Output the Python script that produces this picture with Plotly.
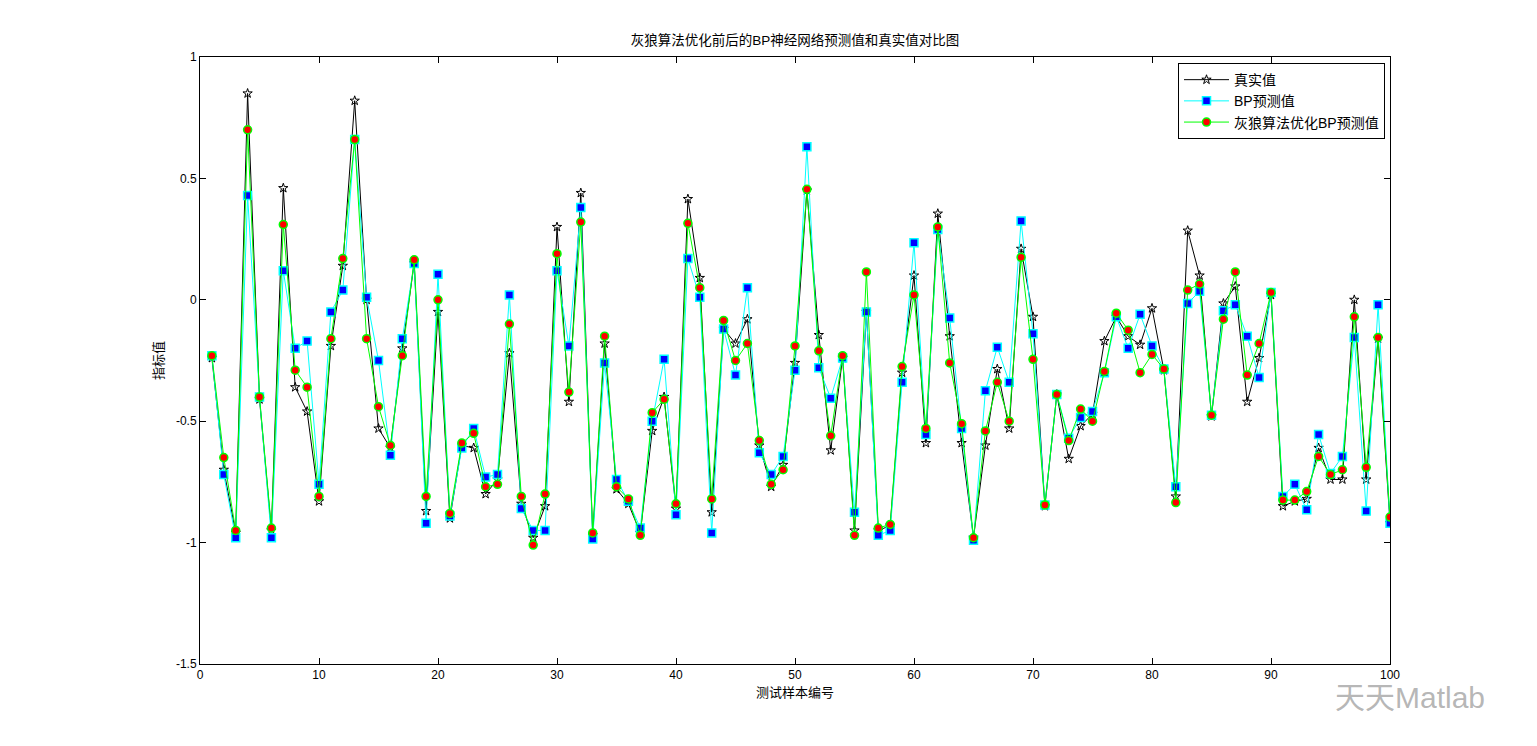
import plotly.graph_objects as go

samples = list(range(1, 101))

true_vals = [
    -0.24, -0.70, -0.96, 0.85, -0.41, -0.95, 0.46, -0.36, -0.46, -0.83,
    -0.19, 0.14, 0.82, 0.00, -0.53, -0.61, -0.20, 0.15, -0.87, -0.05,
    -0.90, -0.60, -0.61, -0.80, -0.74, -0.22, -0.84, -0.98, -0.85, 0.30,
    -0.42, 0.44, -0.97, -0.18, -0.78, -0.84, -0.96, -0.54, -0.40, -0.86,
    0.415, 0.09, -0.875, -0.12, -0.18, -0.08, -0.60, -0.77, -0.68, -0.26,
    0.45, -0.145, -0.62, -0.24, -0.95, -0.05, -0.95, -0.93, -0.30, 0.10,
    -0.59, 0.355, -0.15, -0.59, -0.98, -0.60, -0.285, -0.53, 0.21, -0.07,
    -0.85, -0.39, -0.655, -0.52, -0.47, -0.17, -0.07, -0.15, -0.185, -0.035,
    -0.29, -0.81, 0.285, 0.10, -0.48, -0.015, 0.055, -0.42, -0.24, 0.02,
    -0.85, -0.83, -0.82, -0.61, -0.74, -0.74, 0.00, -0.74, -0.16, -0.92,
]

bp_vals = [
    -0.23, -0.72, -0.98, 0.43, -0.40, -0.98, 0.12, -0.20, -0.17, -0.76,
    -0.05, 0.04, 0.66, 0.01, -0.25, -0.64, -0.16, 0.15, -0.92, 0.105,
    -0.89, -0.61, -0.53, -0.73, -0.72, 0.02, -0.86, -0.95, -0.95, 0.12,
    -0.19, 0.38, -0.985, -0.26, -0.74, -0.83, -0.94, -0.50, -0.245, -0.885,
    0.17, 0.01, -0.96, -0.12, -0.31, 0.05, -0.63, -0.72, -0.645, -0.29,
    0.63, -0.28, -0.405, -0.24, -0.875, -0.05, -0.97, -0.95, -0.34, 0.235,
    -0.555, 0.29, -0.075, -0.53, -0.99, -0.375, -0.195, -0.34, 0.325, -0.14,
    -0.845, -0.39, -0.57, -0.485, -0.46, -0.30, -0.07, -0.20, -0.06, -0.19,
    -0.285, -0.77, -0.015, 0.035, -0.475, -0.045, -0.02, -0.15, -0.32, 0.03,
    -0.81, -0.76, -0.865, -0.555, -0.715, -0.645, -0.155, -0.87, -0.02, -0.92,
]

gwo_vals = [
    -0.23, -0.65, -0.95, 0.70, -0.40, -0.94, 0.31, -0.29, -0.36, -0.81,
    -0.16, 0.17, 0.66, -0.16, -0.44, -0.60, -0.23, 0.165, -0.81, 0.00,
    -0.88, -0.59, -0.55, -0.77, -0.76, -0.10, -0.81, -1.01, -0.80, 0.19,
    -0.38, 0.32, -0.96, -0.15, -0.77, -0.82, -0.97, -0.465, -0.41, -0.84,
    0.315, 0.05, -0.82, -0.085, -0.25, -0.18, -0.58, -0.76, -0.70, -0.19,
    0.455, -0.21, -0.56, -0.23, -0.97, 0.115, -0.94, -0.925, -0.275, 0.02,
    -0.53, 0.30, -0.26, -0.51, -0.98, -0.54, -0.34, -0.50, 0.175, -0.245,
    -0.845, -0.39, -0.58, -0.45, -0.50, -0.295, -0.055, -0.125, -0.30, -0.225,
    -0.285, -0.835, 0.04, 0.065, -0.475, -0.08, 0.115, -0.31, -0.18, 0.03,
    -0.825, -0.825, -0.79, -0.645, -0.72, -0.70, -0.07, -0.69, -0.155, -0.895,
]

x_ticks = [0, 10, 20, 30, 40, 50, 60, 70, 80, 90, 100]
y_ticks = [-1.5, -1, -0.5, 0, 0.5, 1]
y_tick_labels = ["-1.5", "-1", "-0.5", "0", "0.5", "1"]

title_text = "灰狼算法优化前后的BP神经网络预测值和真实值对比图"
x_title = "测试样本编号"
y_title = "指标值"
names = ["真实值", "BP预测值", "灰狼算法优化BP预测值"]
watermark = "天天Matlab"

FONT = "Liberation Sans, Noto Sans CJK SC, sans-serif"

fig = go.Figure()
fig.add_trace(go.Scatter(
    x=samples, y=true_vals, name=names[0], mode="lines+markers",
    line=dict(color="black", width=1),
    marker=dict(symbol="star-open", size=7, color="black", line=dict(width=1, color="black")),
))
fig.add_trace(go.Scatter(
    x=samples, y=bp_vals, name=names[1], mode="lines+markers",
    line=dict(color="#00ffff", width=1),
    marker=dict(symbol="square", size=8, color="#0000ff", line=dict(width=1.5, color="#00ffff")),
))
fig.add_trace(go.Scatter(
    x=samples, y=gwo_vals, name=names[2], mode="lines+markers",
    line=dict(color="#00ff00", width=1),
    marker=dict(symbol="circle", size=8, color="#ff0000", line=dict(width=1.5, color="#00ff00")),
))

axis_common = dict(
    showgrid=False, zeroline=False, showline=True, linecolor="black", linewidth=1,
    mirror="ticks", ticks="inside", ticklen=6, tickcolor="black",
    tickfont=dict(family=FONT, size=12, color="black"),
)

W, H = 1521, 730
fig.update_layout(
    width=W, height=H,
    paper_bgcolor="white", plot_bgcolor="white",
    margin=dict(l=192, r=139, t=49, b=74, autoexpand=False),
    title=dict(text=title_text, x=(787) / W, xanchor="center", y=1 - 32 / H, yanchor="middle",
               font=dict(family=FONT, size=13.5, color="black")),
    xaxis=dict(range=[0, 100], tickvals=x_ticks, title=dict(text=x_title, standoff=6,
               font=dict(family=FONT, size=13, color="black")), **axis_common),
    yaxis=dict(range=[-1.5, 1], tickvals=y_ticks, ticktext=y_tick_labels,
               title=dict(text=y_title, standoff=9, font=dict(family=FONT, size=13, color="black")),
               **axis_common),
    legend=dict(x=0.9958, xanchor="right", y=0.99, yanchor="top",
                bgcolor="white", bordercolor="black", borderwidth=1,
                font=dict(family=FONT, size=14, color="black"),
                itemwidth=45, tracegroupgap=0),
    showlegend=True,
)

fig.add_annotation(text=watermark, xref="paper", yref="paper", x=(1479 - 192) / (W - 192 - 139),
                   y=-(697 - 57 - 607) / 607.0, xanchor="right", yanchor="middle", showarrow=False,
                   font=dict(family=FONT, size=30, color="rgba(120,120,120,0.55)"))

fig.write_html("out.html")
